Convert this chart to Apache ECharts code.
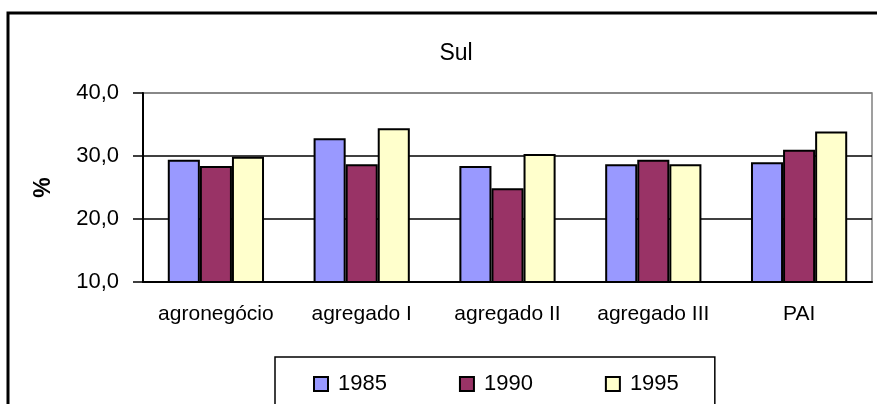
<!DOCTYPE html>
<html>
<head>
<meta charset="utf-8">
<title>Sul</title>
<script src="https://cdn.jsdelivr.net/npm/echarts@6/dist/echarts.min.js"></script>
<style>
  html, body { margin: 0; padding: 0; background: #fff; }
  #main { width: 877px; height: 404px; }
</style>
</head>
<body>
<div id="main"></div>
<script>
// categorias e valores (%)
var categorias = ['agronegócio', 'agregado I', 'agregado II', 'agregado III', 'PAI'];
var anos = ['1985', '1990', '1995'];
var v1985 = [29.4, 32.8, 28.4, 28.7, 29.0];
var v1990 = [28.4, 28.7, 24.9, 29.4, 31.0];
var v1995 = [29.9, 34.4, 30.3, 28.7, 33.9];
var cores = ['#9999FF', '#993366', '#FFFFCC'];

var fonte = 'Liberation Sans, Arial, sans-serif';

function serie(nome, dados, cor) {
    return {
        name: nome,
        type: 'bar',
        data: dados,
        barGap: '0%',
        barCategoryGap: '34%',
        itemStyle: { color: cor, borderColor: '#000', borderWidth: 2 }
    };
}

var chart = echarts.init(document.getElementById('main'));
chart.setOption({
    animation: false,
    title: {
        text: 'Sul',
        left: 451,
        top: 37,
        textAlign: 'center',
        textStyle: { fontFamily: fonte, fontSize: 23, fontWeight: 'normal', color: '#000' }
    },
    graphic: [{
        type: 'rect',
        shape: { x: 8, y: 13, width: 900, height: 430 },
        style: { fill: 'none', stroke: '#000', lineWidth: 3 },
        silent: true
    }],
    legend: {
        data: anos,
        left: 275,
        top: 357,
        padding: [16, 36, 16, 38],
        itemWidth: 14,
        itemHeight: 14,
        itemGap: 72,
        borderColor: '#000',
        borderWidth: 1.5,
        icon: 'rect',
        textStyle: { fontFamily: fonte, fontSize: 22, color: '#000', padding: [0, 0, 0, 5] }
    },
    grid: {
        left: 143,
        top: 93,
        right: 5,
        bottom: 122,
        show: true,
        borderColor: '#808080',
        borderWidth: 1.5
    },
    xAxis: {
        type: 'category',
        data: categorias,
        axisLine: { lineStyle: { color: '#000', width: 2 } },
        axisTick: { length: 7, lineStyle: { color: '#000', width: 1.5 } },
        axisLabel: { fontFamily: fonte, fontSize: 21, color: '#000', margin: 22, interval: 0, hideOverlap: false }
    },
    yAxis: {
        type: 'value',
        min: 10,
        max: 40,
        interval: 10,
        name: '%',
        nameLocation: 'middle',
        nameGap: 88,
        nameRotate: 90,
        nameTextStyle: { fontFamily: fonte, fontSize: 23, fontWeight: 'bold', color: '#000' },
        axisLine: { show: true, lineStyle: { color: '#000', width: 2 } },
        axisTick: { show: true, length: 10, lineStyle: { color: '#000', width: 1.5 } },
        axisLabel: {
            fontFamily: fonte, fontSize: 22, color: '#000', margin: 24,
            formatter: function (v) { return v.toFixed(1).replace('.', ','); }
        },
        splitLine: { show: true, lineStyle: { color: ['#000', '#000', '#000', '#808080'], width: 1.5 } }
    },
    series: [
        serie(anos[0], v1985, cores[0]),
        serie(anos[1], v1990, cores[1]),
        serie(anos[2], v1995, cores[2])
    ]
});
</script>
</body>
</html>
